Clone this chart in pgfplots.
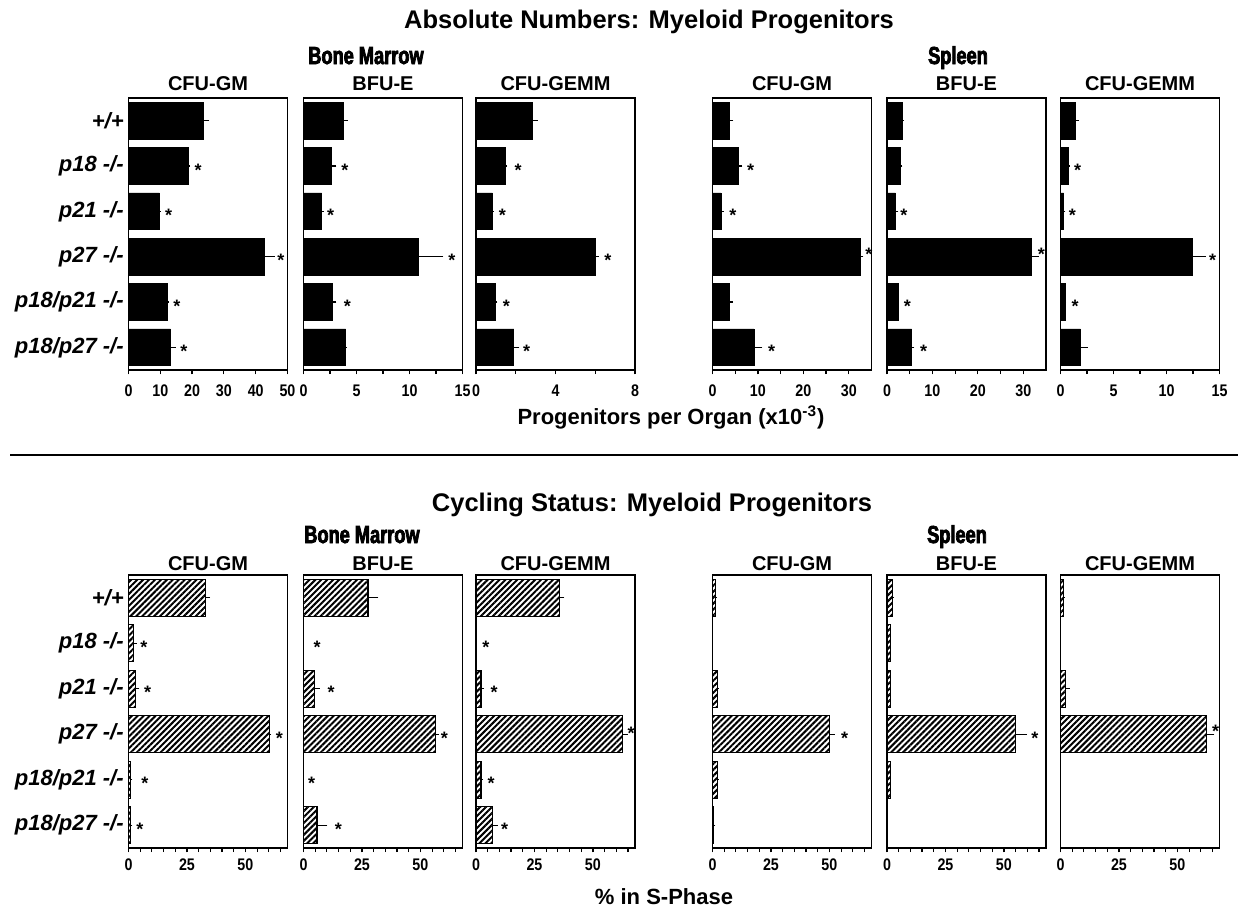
\documentclass[border=0pt]{standalone}
\usepackage{fontspec}
\setmainfont{Liberation Sans}
\newfontfamily\tickfont{Liberation Sans}[FakeStretch=0.85]
\newfontfamily\heavyfont{Liberation Sans}[FakeStretch=0.74, BoldFeatures={FakeBold=3}]
\usepackage{pgfplots}
\pgfplotsset{compat=1.18}
\usetikzlibrary{patterns.meta}

\pgfplotsset{
  panel/.style={
    scale only axis, width=79.5pt, height=136pt, anchor=south west,
    y dir=reverse, ymin=-0.5, ymax=5.5, xmin=0,
    ytick={0,...,5}, yticklabels={}, ytick style={draw=none},
    axis line style={line width=0.6pt},
    xtick style={line width=0.6pt, black},
    tick align=outside, xtick pos=left, ytick pos=left,
    major tick length=2.2pt, minor tick length=2pt,
    clip=false, scaled x ticks=false,
    /pgf/number format/assume math mode=true,
    xticklabel style={font=\tickfont\bfseries\fontsize{8.4}{8.4}\selectfont, inner sep=0pt, anchor=north},
    yticklabel style={font=\bfseries\itshape\fontsize{11}{11}\selectfont, inner sep=0pt, anchor=east},
    title style={at={(0.5,1)}, anchor=base, inner sep=0pt, font=\bfseries\fontsize{10}{10}\selectfont},
  },
  toprow/.style={panel, title style={yshift=-2.2pt}, xticklabel style={yshift=-5pt}},
  botrow/.style={panel, height=136.5pt, xmax=68, xtick={0,25,50},
    minor xtick={5,10,15,20,30,35,40,45,55,60,65},
    title style={yshift=-3.8pt}, xticklabel style={yshift=-3pt}},
  blackbar/.style={xbar, bar width=0.81, fill=black, draw=black, line width=0.3pt,
    error bars/x dir=plus, error bars/x explicit, error bars/error mark=none,
    error bars/error bar style={line width=0.7pt, black}},
  hatchbar/.style={xbar, bar width=0.81, draw=black, line width=0.6pt,
    pattern={Lines[angle=45,distance=2.1pt,line width=1pt]},
    error bars/x dir=plus, error bars/x explicit, error bars/error mark=none,
    error bars/error bar style={line width=0.7pt, black}},
  stars/.style={only marks, mark=text, text mark={*}, text mark as node=true,
    text mark style={font=\bfseries\fontsize{9}{9}\selectfont, inner sep=0pt, yshift=-2pt}},
}

\begin{document}
\begin{tikzpicture}
\useasboundingbox (0,0) rectangle (619pt,-453.5pt);

% ---------- Top row: absolute numbers ----------
\begin{axis}[toprow, at={(64.25pt,-185pt)}, xmax=50, xtick={0,10,20,30,40,50}, title={CFU-GM},
  yticklabels={+/+, p18 -/-, p21 -/-, p27 -/-, p18/p21 -/-, p18/p27 -/-}]
\addplot[blackbar] table[x=v, y=r, x error expr=\thisrow{e}-\thisrow{v}] {
r v e
0 23.5 25.4
1 18.7 19.4
2 9.7 10.1
3 42.6 46.0
4 12.3 12.5
5 13.2 14.8
};
\addplot[stars] table[x=s, y=r] {
r s
1 21.9
2 12.6
3 47.9
4 15.2
5 17.4
};
\end{axis}

\begin{axis}[toprow, at={(151.75pt,-185pt)}, xmax=15, xtick={0,5,10,15}, minor xtick={2.5,7.5,12.5}, title={BFU-E}]
\addplot[blackbar] table[x=v, y=r, x error expr=\thisrow{e}-\thisrow{v}] {
r v e
0 3.8 4.2
1 2.65 3.1
2 1.7 1.9
3 10.8 13.2
4 2.7 3.1
5 3.97 4.0
};
\addplot[stars] table[x=s, y=r] {
r s
1 3.9
2 2.57
3 14.0
4 4.13
};
\end{axis}

\begin{axis}[toprow, at={(238pt,-185pt)}, xmax=8, xtick={0,4,8}, minor xtick={2,6}, title={CFU-GEMM}]
\addplot[blackbar] table[x=v, y=r, x error expr=\thisrow{e}-\thisrow{v}] {
r v e
0 2.84 3.1
1 1.49 1.57
2 0.82 0.9
3 6.02 6.18
4 0.98 1.08
5 1.9 2.18
};
\addplot[stars] table[x=s, y=r] {
r s
1 2.12
2 1.33
3 6.63
4 1.53
5 2.55
};
\end{axis}

\begin{axis}[toprow, at={(356.25pt,-185pt)}, xmax=35, xtick={0,10,20,30}, minor xtick={5,15,25}, title={CFU-GM}]
\addplot[blackbar] table[x=v, y=r, x error expr=\thisrow{e}-\thisrow{v}] {
r v e
0 3.76 4.6
1 5.7 6.6
2 1.84 2.45
3 32.5 33.2
4 3.76 4.5
5 9.1 11.0
};
\addplot[stars] table[x=s, y=r] {
r s
1 8.4
2 4.46
2.87 34.4
5 13.0
};
\end{axis}

\begin{axis}[toprow, at={(443.5pt,-185pt)}, xmax=35, xtick={0,10,20,30}, minor xtick={5,15,25}, title={BFU-E}]
\addplot[blackbar] table[x=v, y=r, x error expr=\thisrow{e}-\thisrow{v}] {
r v e
0 3.4 3.7
1 3.0 3.4
2 1.84 2.5
3 31.7 33.4
4 2.4 2.6
5 5.4 6.0
};
\addplot[stars] table[x=s, y=r] {
r s
2 3.7
2.85 34.0
4 4.46
5 8.05
};
\end{axis}

\begin{axis}[toprow, at={(530.25pt,-185pt)}, xmax=15, xtick={0,5,10,15}, minor xtick={2.5,7.5,12.5}, title={CFU-GEMM}]
\addplot[blackbar] table[x=v, y=r, x error expr=\thisrow{e}-\thisrow{v}] {
r v e
0 1.39 1.76
1 0.75 0.86
2 0.3 0.45
3 12.4 13.7
4 0.41 0.52
5 1.87 2.55
};
\addplot[stars] table[x=s, y=r] {
r s
1 1.61
2 1.12
3 14.36
4 1.39
};
\end{axis}

% ---------- Bottom row: cycling status ----------
\begin{axis}[botrow, at={(64.25pt,-424pt)}, title={CFU-GM},
  yticklabels={+/+, p18 -/-, p21 -/-, p27 -/-, p18/p21 -/-, p18/p27 -/-}]
\addplot[hatchbar] table[x=v, y=r, x error expr=\thisrow{e}-\thisrow{v}] {
r v e
0 33.1 34.9
1 2.1 3.5
2 3.1 4.7
3 60.2 61.0
4 1.0 1.7
5 0.9 1.7
};
\addplot[stars] table[x=s, y=r] {
r s
1 6.6
2 8.2
3 64.5
4 7.0
5 4.9
};
\end{axis}

\begin{axis}[botrow, at={(151.75pt,-424pt)}, title={BFU-E}]
\addplot[hatchbar] table[x=v, y=r, x error expr=\thisrow{e}-\thisrow{v}] {
r v e
0 27.6 32.0
1 0 0
2 4.7 7.0
3 56.6 58.0
4 0 0
5 5.8 10.2
};
\addplot[stars] table[x=s, y=r] {
r s
1 5.8
2 11.8
3 60.3
4 3.5
5 14.9
};
\end{axis}

\begin{axis}[botrow, at={(238pt,-424pt)}, title={CFU-GEMM}]
\addplot[hatchbar] table[x=v, y=r, x error expr=\thisrow{e}-\thisrow{v}] {
r v e
0 35.7 37.8
1 0 0
2 2.1 3.5
3 62.8 64.9
4 2.1 3.0
5 7.0 9.4
};
\addplot[stars] table[x=s, y=r] {
r s
1 4.2
2 7.7
2.9 66.3
4 6.5
5 12.2
};
\end{axis}

\begin{axis}[botrow, at={(356.25pt,-424pt)}, title={CFU-GM}]
\addplot[hatchbar] table[x=v, y=r, x error expr=\thisrow{e}-\thisrow{v}] {
r v e
0 1.35 1.85
1 0 0
2 2.2 2.7
3 49.9 52.3
4 2.2 2.7
5 0.2 1.2
};
\addplot[stars] table[x=s, y=r] {
r s
3 56.5
};
\end{axis}

\begin{axis}[botrow, at={(443.5pt,-424pt)}, title={BFU-E}]
\addplot[hatchbar] table[x=v, y=r, x error expr=\thisrow{e}-\thisrow{v}] {
r v e
0 2.2 3.0
1 1.35 1.7
2 1.35 1.7
3 54.8 59.9
4 1.35 1.7
5 0 0
};
\addplot[stars] table[x=s, y=r] {
r s
3 63.2
};
\end{axis}

\begin{axis}[botrow, at={(530.25pt,-424pt)}, title={CFU-GEMM}]
\addplot[hatchbar] table[x=v, y=r, x error expr=\thisrow{e}-\thisrow{v}] {
r v e
0 1.34 2.0
1 0 0
2 2.2 3.9
3 62.4 65.8
4 0 0
5 0 0
};
\addplot[stars] table[x=s, y=r] {
r s
2.85 66.3
};
\end{axis}

% ---------- Headings and labels ----------
\node[anchor=base, inner sep=0pt, font=\bfseries\fontsize{12.75}{12.75}\selectfont] at (324.5pt,-14.15pt) {Absolute Numbers: Myeloid Progenitors};
\node[anchor=base, inner sep=0pt, font=\heavyfont\bfseries\fontsize{12.3}{12.3}\selectfont] at (183pt,-32pt) {Bone Marrow};
\node[anchor=base, inner sep=0pt, font=\heavyfont\bfseries\fontsize{12.3}{12.3}\selectfont] at (479pt,-32pt) {Spleen};
\node[anchor=base, inner sep=0pt, font=\bfseries\fontsize{11}{11}\selectfont] at (335.5pt,-212pt) {Progenitors per Organ (x10\textsuperscript{-3})};
\draw[line width=1pt] (5pt,-227.5pt) -- (619pt,-227.5pt);
\node[anchor=base, inner sep=0pt, font=\bfseries\fontsize{12.75}{12.75}\selectfont] at (326pt,-255.5pt) {Cycling Status: Myeloid Progenitors};
\node[anchor=base, inner sep=0pt, font=\heavyfont\bfseries\fontsize{12.3}{12.3}\selectfont] at (181pt,-271.5pt) {Bone Marrow};
\node[anchor=base, inner sep=0pt, font=\heavyfont\bfseries\fontsize{12.3}{12.3}\selectfont] at (478.5pt,-271.5pt) {Spleen};
\node[anchor=base, inner sep=0pt, font=\bfseries\fontsize{11}{11}\selectfont] at (332pt,-452pt) {\% in S-Phase};
\end{tikzpicture}
\end{document}
